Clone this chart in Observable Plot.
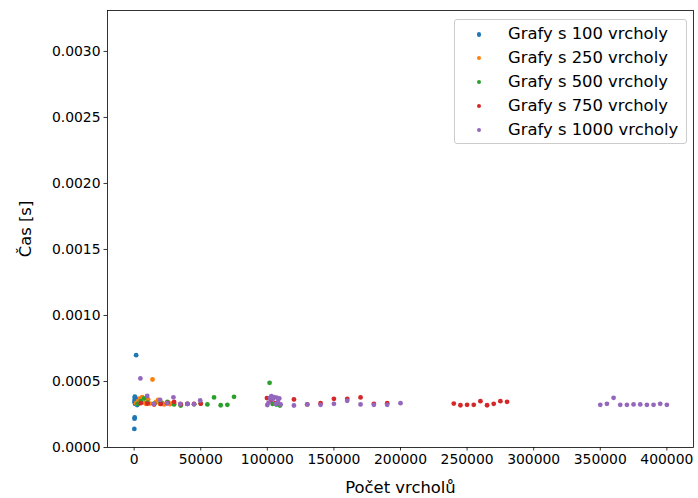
<!DOCTYPE html>
<html>
<head>
<meta charset="utf-8">
<script src="https://cdn.jsdelivr.net/npm/d3@7"></script>
<script src="https://cdn.jsdelivr.net/npm/@observablehq/plot@0.6"></script>
<style>
  body { margin: 0; background: #fff; }
  #wrap { position: relative; width: 698px; height: 498px; font-family: "DejaVu Sans", sans-serif; }
  .legend { position: absolute; left: 454px; top: 19px; width: 233px; height: 125px; box-sizing: border-box;
            border: 1px solid #cccccc; border-radius: 3px; background: rgba(255,255,255,0.8); }
  .row { position: absolute; left: 0; height: 20px; line-height: 20px; font-size: 16.4px; color: #000; white-space: nowrap; }
  .mk { position: absolute; left: 21.5px; top: 8px; width: 4.4px; height: 4.4px; border-radius: 50%; }
  .lb { position: absolute; left: 53px; top: 0; }
</style>
</head>
<body>
<div id="wrap"></div>
<script>
const seriesNames = ["Grafy s 100 vrcholy", "Grafy s 250 vrcholy", "Grafy s 500 vrcholy", "Grafy s 750 vrcholy", "Grafy s 1000 vrcholy"];
const seriesColors = ["#1f77b4", "#ff7f0e", "#2ca02c", "#d62728", "#9467bd"];

const x100 = [150, 300, 400, 200, 400, 600, 800, 1000, 1500, 1200, 1400, 1700, 2000, 2300, 2600, 2900, 500];
const y100 = [0.000141, 0.000218, 0.000228, 0.000345, 0.000362, 0.000378, 0.000330, 0.000352, 0.000699, 0.000371, 0.000334, 0.000358, 0.000340, 0.000322, 0.000350, 0.000331, 0.000385];

const x250 = [1500, 3000, 4500, 6000, 7500, 9000, 10500, 12000, 13800, 15000, 16500, 18000, 19500, 21000, 22500, 24000, 25500, 27000, 28500, 30000];
const y250 = [0.000335, 0.000352, 0.000372, 0.000381, 0.000340, 0.000330, 0.000364, 0.000333, 0.000515, 0.000328, 0.000345, 0.000360, 0.000330, 0.000338, 0.000326, 0.000332, 0.000340, 0.000328, 0.000334, 0.000330];

const x500 = [2500, 5000, 7500, 10000, 15000, 20000, 25000, 30000, 35000, 40000, 45000, 50000, 55000, 60000, 65000, 70000, 75000, 101700, 104000, 107000, 109500];
const y500 = [0.000330, 0.000352, 0.000372, 0.000340, 0.000332, 0.000338, 0.000345, 0.000326, 0.000318, 0.000330, 0.000328, 0.000333, 0.000326, 0.000379, 0.000320, 0.000323, 0.000384, 0.000490, 0.000330, 0.000325, 0.000318];

const x750 = [5000, 10000, 15000, 20000, 25000, 30000, 35000, 40000, 45000, 50000, 99700, 103000, 106000, 120000, 130000, 140000, 150000, 160000, 170000, 180000, 190000, 240000, 245000, 250000, 255000, 260000, 265000, 270000, 275000, 280000];
const y750 = [0.000336, 0.000333, 0.000326, 0.000330, 0.000338, 0.000345, 0.000328, 0.000330, 0.000330, 0.000332, 0.000374, 0.000360, 0.000335, 0.000364, 0.000326, 0.000336, 0.000369, 0.000369, 0.000379, 0.000331, 0.000336, 0.000333, 0.000320, 0.000323, 0.000323, 0.000351, 0.000320, 0.000331, 0.000351, 0.000346];

const x1000 = [4700, 9800, 14800, 19500, 24600, 29500, 34600, 40000, 45000, 49600, 100000, 101000, 102000, 103000, 104000, 105000, 106000, 107000, 108000, 109000, 110000, 120000, 130000, 140000, 150000, 160000, 170000, 180000, 190000, 200000, 350000, 355000, 360000, 365000, 370000, 375000, 380000, 385000, 390000, 395000, 400000];
const y1000 = [0.000523, 0.000390, 0.000330, 0.000360, 0.000335, 0.000380, 0.000330, 0.000330, 0.000328, 0.000356, 0.000322, 0.000340, 0.000375, 0.000388, 0.000365, 0.000382, 0.000330, 0.000378, 0.000345, 0.000372, 0.000326, 0.000318, 0.000326, 0.000323, 0.000331, 0.000354, 0.000326, 0.000323, 0.000323, 0.000336, 0.000323, 0.000331, 0.000376, 0.000323, 0.000323, 0.000326, 0.000326, 0.000323, 0.000323, 0.000331, 0.000323];

const xTicks = [0, 50000, 100000, 150000, 200000, 250000, 300000, 350000, 400000];
const yTicks = [0, 0.0005, 0.0010, 0.0015, 0.0020, 0.0025, 0.0030];
const xLabel = "Počet vrcholů";
const yLabel = "Čas [s]";

const xs = [x100, x250, x500, x750, x1000];
const ys = [y100, y250, y500, y750, y1000];
const data = seriesNames.flatMap((name, i) => xs[i].map((x, j) => ({series: name, x, y: ys[i][j]})));

const font = {fontFamily: "DejaVu Sans", fontSize: "13.9px"};

const chart = Plot.plot({
  width: 698,
  height: 498,
  marginLeft: 107,
  marginRight: 5,
  marginTop: 10,
  marginBottom: 51,
  style: {...font, color: "black", background: "white"},
  x: {domain: [-20000, 420000]},
  y: {domain: [0, 0.00331]},
  color: {domain: seriesNames, range: seriesColors},
  marks: [
    Plot.dot(data, {x: "x", y: "y", fill: "series", r: 2.4, stroke: null}),
    Plot.axisX({ticks: xTicks, tickFormat: d => String(d), tickSize: 3.5, tickPadding: 3.5, strokeWidth: 0.8, label: null, fontSize: 13.9}),
    Plot.axisY({ticks: yTicks, tickFormat: d3.format(".4f"), tickSize: 3.5, tickPadding: 3.5, strokeWidth: 0.8, label: null, fontSize: 13.9}),
    Plot.frame({stroke: "black", strokeWidth: 0.8}),
    Plot.text([xLabel], {text: d => d, frameAnchor: "bottom", dy: 40, lineAnchor: "middle", textAnchor: "middle", fontSize: 16.4}),
    Plot.text([yLabel], {text: d => d, frameAnchor: "left", dx: -82, rotate: -90, lineAnchor: "middle", textAnchor: "middle", fontSize: 16.4})
  ]
});

const wrap = document.getElementById("wrap");
wrap.appendChild(chart);

const legend = document.createElement("div");
legend.className = "legend";
seriesNames.forEach((name, i) => {
  const row = document.createElement("div");
  row.className = "row";
  row.style.top = (i * 23.8 + 4.3) + "px";
  const mk = document.createElement("span");
  mk.className = "mk";
  mk.style.background = seriesColors[i];
  const lb = document.createElement("span");
  lb.className = "lb";
  lb.textContent = name;
  row.appendChild(mk);
  row.appendChild(lb);
  legend.appendChild(row);
});
wrap.appendChild(legend);
</script>
</body>
</html>
